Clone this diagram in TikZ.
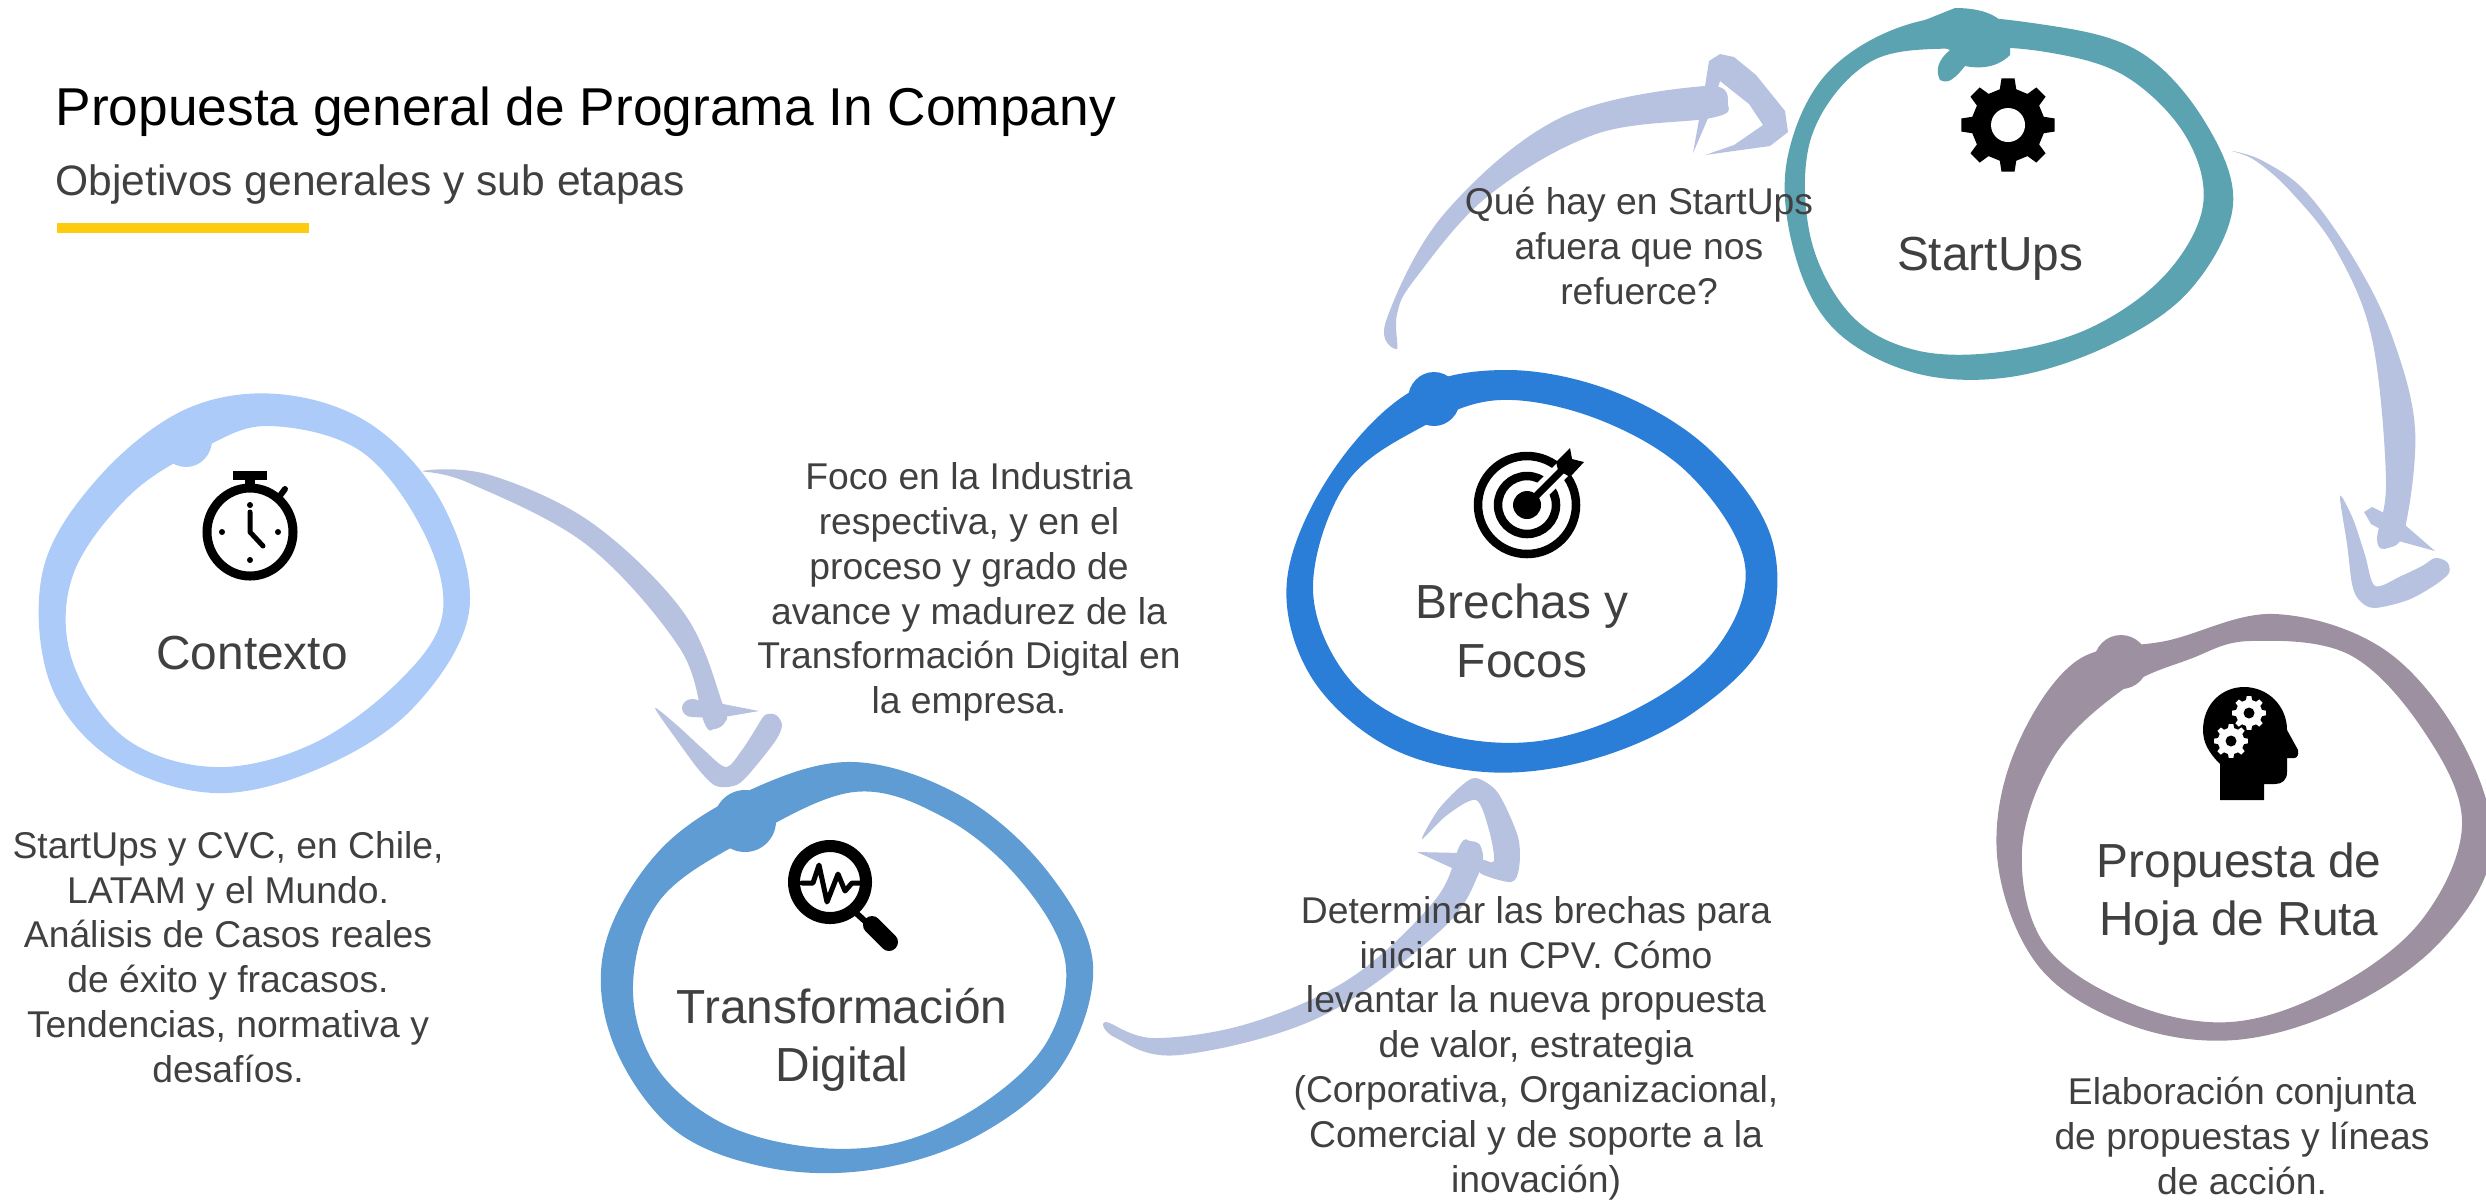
\documentclass[tikz,border=0pt]{standalone}
\usepackage{fontspec}
\setmainfont{Liberation Sans}
\definecolor{ctxblue}{HTML}{ACCBF9}
\definecolor{digblue}{HTML}{5F9CD3}
\definecolor{gapblue}{HTML}{2B7ED8}
\definecolor{startteal}{HTML}{5BA3B0}
\definecolor{routemauve}{HTML}{9D90A0}
\definecolor{brushblue}{HTML}{B7C2E0}
\definecolor{baryellow}{HTML}{FFCB0F}
\definecolor{textgrey}{HTML}{404040}
\def\px{0.2845pt}
% eight toothed wheel: centre, radius
\newcommand{\gearwheel}[3]{
    \fill[#3,shift={#1}] (-13:#2*0.78)
    \foreach \a in {0,45,...,315} {
        -- (\a-13:#2*0.78) -- (\a-8:#2) -- (\a+8:#2) -- (\a+13:#2*0.78) -- (\a+32:#2*0.78)
    } -- cycle;
}
\begin{document}
\begin{tikzpicture}[x=0.01cm,y=-0.01cm]
    \tikzstyle{ringlabel}=[align=center,text=textgrey,inner sep=0pt,font=\fontsize{13.6}{16.6}\selectfont]
    \tikzstyle{note}=[align=center,text=textgrey,inner sep=0pt,font=\fontsize{10.6}{12.75}\selectfont]
    \tikzstyle{brush}=[fill=brushblue]
    \tikzstyle{icon}=[line width=5*\px,line cap=round,line join=round]
    \clip (0,0) rectangle (2486,1199);

    % Links between the rings
    \path
    (423,471)   coordinate (contextoOut)
    (726,767)   coordinate (digitalIn)
    (1106,1022) coordinate (digitalOut)
    (1476,778)  coordinate (brechasIn)
    (1397,349)  coordinate (brechasOut)
    (1788,132)  coordinate (startupsIn)
    (2232,151)  coordinate (startupsOut)
    (2374,608)  coordinate (rutaIn);

    \fill[brush] plot[smooth cycle,tension=.6] coordinates {(contextoOut) (490,475) (592,523) (684,613) (723,705) (725,722) (714,729) (704,722) (679,647) (587,545) (469,483)};
    \fill[brush] (692,708) ellipse (10 and 9);
    \fill[brush] (692,699) -- (718,703) -- (759,711) -- (718,718) -- (692,717) -- cycle;
    \fill[brush] plot[smooth cycle,tension=.5] coordinates {(655,708) (679,727) (704,750) (digitalIn) (742,750) (755,730) (765,715) (776,715) (782,725) (776,740) (755,767) (740,783) (727,787) (714,785) (699,770) (679,743)};

    \fill[brush] plot[smooth cycle,tension=.6] coordinates {(digitalOut) (1154,1038) (1250,1023) (1352,977) (1435,900) (1460,845) (1470,841) (1481,847) (1479,873) (1441,930) (1320,1017) (1179,1055) (1116,1038)};
    \fill[brush] (1417,852) -- (1462,853) -- (1452,868) -- cycle;
    \fill[brush] plot[smooth cycle,tension=.5] coordinates {(1422,839) (1438,810) (1460,787) (brechasIn) (1498,793) (1518,837) (1519,868) (1511,882) (1480,873) (1482,860) (1494,861) (1489,830) (1476,800) (1447,815)};

    \fill[brush] plot[smooth cycle,tension=.6] coordinates {(brechasOut) (1386,321) (1444,214) (1560,118) (1705,86) (1728,105) (1711,118) (1596,134) (1488,196) (1415,279) (1397,314)};
    \fill[brush] (1693,153) -- (1705,86) -- (1709,61) -- (1720,54) -- (1734,57) -- (1756,75) -- (1785,111) -- (startupsIn) -- (1770,146) -- (1705,155) -- (1734,145) -- (1763,125) -- (1749,104) -- (1720,81) -- (1709,116) -- cycle;

    \fill[brush] plot[smooth cycle,tension=.6] coordinates {(startupsOut) (2263,161) (2307,193) (2357,264) (2393,339) (2415,429) (2405,528) (2388,548) (2377,539) (2386,480) (2372,339) (2336,250) (2292,193) (2256,161)};
    \fill[brush] (2364,512) -- (2372,507) -- (2388,515) -- (2382,530) -- (2371,524) -- cycle;
    \fill[brush] (2405,525) -- (2435,551) -- (2395,540) -- cycle;
    \fill[brush] plot[smooth cycle,tension=.5] coordinates {(2340,496) (2353,519) (2365,555) (2375,586) (2401,576) (2422,566) (2435,558) (2447,562) (2449,573) (2435,585) (2408,600) (rutaIn) (2359,600) (2352,584) (2347,544)};

    % Rings
    \fill[ctxblue,even odd rule]
    plot[smooth cycle,tension=.6] coordinates {(278,394) (372,425) (443,505) (469,612) (412,709) (318,769) (214,793) (113,760) (50,683) (43,570) (98,478) (184,410)}
    plot[smooth cycle,tension=.6] coordinates {(270,426) (362,452) (425,535) (442,617) (395,685) (310,745) (214,767) (125,738) (72,660) (73,575) (130,495) (205,447)};
    \fill[ctxblue] (186,440) ellipse (26 and 27);
    \fill[digblue,even odd rule]
    plot[smooth cycle,tension=.6] coordinates {(854,762) (963,797) (1048,872) (1093,965) (1060,1068) (975,1137) (870,1170) (765,1167) (672,1128) (612,1040) (605,945) (660,850) (750,790)}
    plot[smooth cycle,tension=.6] coordinates {(854,792) (945,818) (1020,880) (1065,960) (1048,1040) (985,1102) (900,1142) (810,1147) (720,1122) (655,1065) (633,985) (660,900) (745,840)};
    \fill[digblue] (745,821) circle (31);
    \fill[gapblue,even odd rule]
    plot[smooth cycle,tension=.6] coordinates {(1507,370) (1615,392) (1710,450) (1772,540) (1765,640) (1690,715) (1590,760) (1485,772) (1385,745) (1310,675) (1287,580) (1330,475) (1410,392)}
    plot[smooth cycle,tension=.6] coordinates {(1500,400) (1600,420) (1690,475) (1745,565) (1715,650) (1630,712) (1530,742) (1430,730) (1350,680) (1313,590) (1345,485) (1420,428)};
    \fill[gapblue] (1434,399) ellipse (26 and 27);
    \fill[startteal,even odd rule]
    plot[smooth cycle,tension=.6] coordinates {(2046,25) (2140,52) (2205,122) (2233,205) (2190,290) (2110,345) (2010,377) (1915,373) (1835,330) (1795,255) (1787,160) (1830,70) (1925,20)}
    plot[smooth cycle,tension=.6] coordinates {(2046,52) (2125,76) (2185,135) (2203,205) (2165,275) (2090,328) (2000,352) (1915,350) (1850,314) (1810,235) (1812,135) (1870,62) (1960,48)};
    \fill[startteal] (1955,8) .. controls (1990,8) and (2005,20) .. (2010,35) -- (2010,55) .. controls (1995,70) and (1975,68) .. (1965,66) .. controls (1950,85) and (1945,82) .. (1940,80) .. controls (1935,70) and (1938,60) .. (1950,50) -- (1900,30) -- cycle;
    \fill[routemauve,even odd rule]
    plot[smooth cycle,tension=.6] coordinates {(2275,614) (2385,650) (2462,742) (2492,850) (2440,942) (2345,1008) (2235,1040) (2130,1025) (2040,968) (1998,865) (2012,758) (2075,662) (2170,640)}
    plot[smooth cycle,tension=.6] coordinates {(2250,641) (2350,655) (2425,733) (2462,825) (2420,922) (2330,990) (2230,1022) (2130,1003) (2045,945) (2022,850) (2055,755) (2125,688) (2190,659)};
    \fill[routemauve] (2121,662) ellipse (27 and 27);

    % Stopwatch
    \draw[line width=9*\px] (250,532) ellipse (43 and 44);
    \fill (233,471) rectangle (267,480);
    \fill (245,480) rectangle (255,488);
    \draw[line width=6*\px,line cap=round] (279,497) -- (285,489);
    \draw[icon] (250,512) -- (250,532) -- (263,546);
    \foreach \dotx/\doty in {250/505,250/560,222/532,278/532} {
        \fill (\dotx,\doty) circle (3);
    }

    % Magnifier
    \draw[line width=12*\px] (830,882) circle (36);
    \draw[line width=6*\px] (855,912) -- (866,922);
    \draw[line width=18*\px,line cap=round] (872,925) -- (889,942);
    \draw[icon] (802,883) -- (813,883) -- (819,865) -- (827,902) -- (838,874) -- (845,891) -- (852,883) -- (860,883);

    % Target
    \draw[line width=8.5*\px] (1527,505) circle (49);
    \draw[line width=8.5*\px] (1527,505) circle (29);
    \fill (1527,505) circle (14);
    \draw[white,line width=17*\px] (1540,492) -- (1580,452);
    \draw[line width=7*\px] (1527,505) -- (1565,467);
    \fill (1556,462) -- (1570,448) -- (1572,459) -- (1584,462) -- (1570,477) -- (1558,470) -- cycle;

    % Gear
    \gearwheel{(2008,125)}{47}{black}
    \fill[white] (2008,125) circle (17);

    % Head
    \fill (2220,800) -- (2220,764) .. controls (2208,752) and (2203,742) .. (2203,730) .. controls (2203,704) and (2222,687) .. (2244,687) .. controls (2268,687) and (2287,706) .. (2287,730) -- (2298,750) .. controls (2299,755) and (2297,758) .. (2294,758) -- (2287,758) -- (2287,772) .. controls (2287,780) and (2282,784) .. (2275,784) -- (2264,784) -- (2264,800) -- cycle;
    \gearwheel{(2249,713)}{17}{white}
    \gearwheel{(2231,741)}{17}{white}
    \fill (2249,713) circle (5.5);
    \fill (2231,741) circle (5.5);

    % Heading
    \path
    (55,112) node[anchor=west,inner sep=0pt,font=\fontsize{15.15}{18}\selectfont] (title) {Propuesta general de Programa In Company}
    (55,184) node[anchor=west,inner sep=0pt,text=textgrey,font=\fontsize{12.1}{14}\selectfont] (subtitle) {Objetivos generales y sub etapas};
    \fill[baryellow] (57,223) rectangle (309,233);

    % Ring labels
    \path
    (252,653)  node[ringlabel] (contexto) {Contexto}
    (842,1040) node[ringlabel] (digital) {Transformación\\Digital}
    (1522,631) node[ringlabel] (brechas) {Brechas y\\Focos}
    (1990,259) node[ringlabel] (startups) {StartUps}
    (2239,894) node[ringlabel] (ruta) {Propuesta de\\Hoja de Ruta};

    % Notes
    \path
    (228,957)   node[note] (contextonote) {StartUps y CVC, en Chile,\\LATAM y el Mundo.\\Análisis de Casos reales\\de éxito y fracasos.\\Tendencias, normativa y\\desafíos.}
    (969,592)   node[note] (digitalnote) {Foco en la Industria\\respectiva, y en el\\proceso y grado de\\avance y madurez de la\\Transformación Digital en\\la empresa.}
    (1536,1048) node[note] (brechasnote) {Determinar las brechas para\\iniciar un CPV. Cómo\\levantar la nueva propuesta\\de valor, estrategia\\(Corporativa, Organizacional,\\Comercial y de soporte a la\\inovación)}
    (1639,246)  node[note] (startupsnote) {Qué hay en StartUps\\afuera que nos\\refuerce?}
    (2242,1136) node[note] (rutanote) {Elaboración conjunta\\de propuestas y líneas\\de acción.};
\end{tikzpicture}
\end{document}
